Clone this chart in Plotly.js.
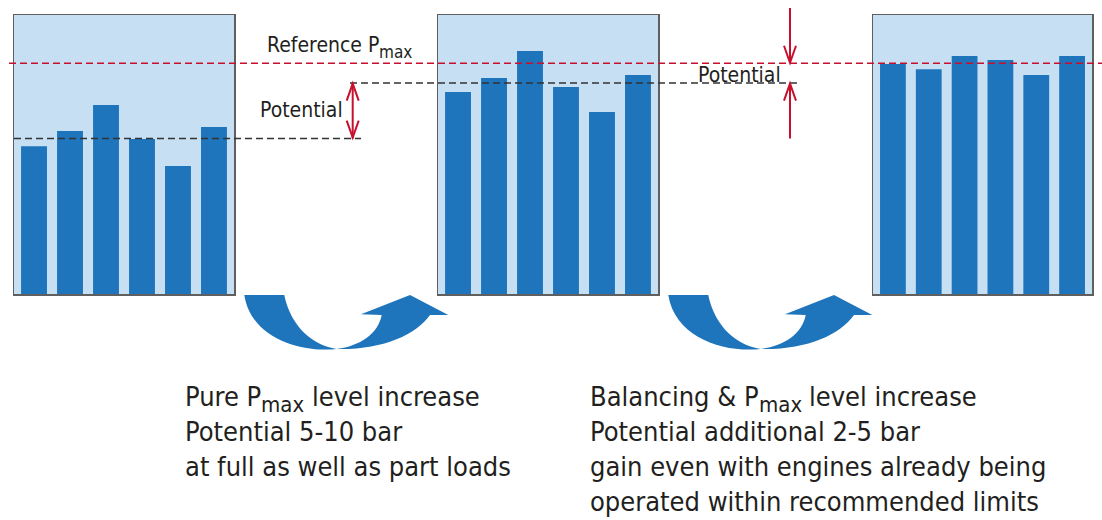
<!DOCTYPE html>
<html><head><meta charset="utf-8">
<script src="https://cdn.plot.ly/plotly-3.0.1.min.js"></script>
<style>html,body{margin:0;padding:0;background:#fff}#chart{width:1102px;height:520px}</style>
</head><body><div id="chart"></div>
<script>
// ---- data ----
const cylinders = ['1','2','3','4','5','6'];
const pmaxBefore   = [53.0, 58.4, 67.7, 55.6, 45.9, 59.9];
const pmaxRaised   = [72.4, 77.4, 87.1, 74.2, 65.2, 78.5];
const pmaxBalanced = [82.4, 80.6, 85.3, 83.9, 78.5, 85.3];
const referencePmax = 82.7;
const levelBefore = 55.7;
const levelRaised = 75.6;
// text pieces: [normal, subscript, normal]
const labelReference = ['Reference P', 'max', ''];
const labelPotential = 'Potential';
const caption1Head = ['Pure P', 'max', ' level increase'];
const caption1Rest = ['Potential 5-10 bar', 'at full as well as part loads'];
const caption2Head = ['Balancing & P', 'max', ' level increase'];
const caption2Rest = ['Potential additional 2-5 bar', 'gain even with engines already being', 'operated within recommended limits'];

// ---- geometry ----
const W = 1102, H = 520;
const panelTop = 15, panelBottom = 294;
const panels = [[14, 234], [438, 658], [873, 1092]];
const yMax = 100;
const px = x => x / W, py = y => 1 - y / H;
const yPx = v => panelBottom - (v / yMax) * (panelBottom - panelTop);

// ---- fonts ----
const cnv = document.createElement('canvas').getContext('2d');
function fontAvailable(f){
  const s = 'abcdefghijklmnopqrstuvwxyzWMPQ0123456789';
  for (const base of ['monospace','serif']) {
    cnv.font = '60px ' + base; const a = cnv.measureText(s).width;
    cnv.font = '60px "' + f + '", ' + base; const b = cnv.measureText(s).width;
    if (Math.abs(a - b) > 0.5) return true;
  }
  return false;
}
const family = ['Liberation Sans Narrow','DejaVu Sans Condensed','Open Sans','Liberation Sans'].find(fontAvailable) || 'sans-serif';
function tw(str, size){ cnv.font = size + 'px "' + family + '"'; return cnv.measureText(str).width; }
cnv.font = '100px "' + family + '"';
const mHg = cnv.measureText('Hg');
const ascentRatio = (mHg.fontBoundingBoxAscent || 93) / 100;
const captionSize = Math.round(Math.min(30, 100 * 461 / tw('gain even with engines already being', 100)));
const labelSize = Math.round(Math.min(26, 100 * 82 / tw('Potential', 100)));
const textColor = '#231f20';
const red = '#c8102e';
const blue = '#1f75bc';

// ---- traces ----
const series = [pmaxBefore, pmaxRaised, pmaxBalanced];
const traces = series.map((vals, i) => ({
  type: 'bar', x: cylinders, y: vals,
  xaxis: i ? 'x' + (i + 1) : 'x', yaxis: i ? 'y' + (i + 1) : 'y',
  marker: {color: blue, line: {width: 0}}, width: 0.72,
  hoverinfo: 'skip', showlegend: false
}));

const layout = {
  width: W, height: H, margin: {l:0, r:0, t:0, b:0},
  paper_bgcolor: '#ffffff', plot_bgcolor: '#c6dff3',
  showlegend: false, bargap: 0.28,
  shapes: [], annotations: []
};
const axBase = {showgrid:false, zeroline:false, showticklabels:false, ticks:'', showline:true, mirror:true, linecolor:'#5f5f5f', linewidth:1.5, fixedrange:true};
panels.forEach(([l, r], i) => {
  const s = i ? String(i + 1) : '';
  layout['xaxis' + s] = Object.assign({}, axBase, {type:'category', domain:[px(l), px(r)], range:[-0.556, 5.556], anchor:'y' + s});
  layout['yaxis' + s] = Object.assign({}, axBase, {domain:[py(panelBottom), py(panelTop)], range:[0, yMax], anchor:'x' + s});
});

// dashed level lines (data y, paper x)
const dash = '7px,4px';
layout.shapes.push({type:'line', layer:'above', xref:'paper', yref:'y', x0:px(9), x1:1, y0:referencePmax, y1:referencePmax, line:{color:red, width:1.5, dash:dash}});
layout.shapes.push({type:'line', layer:'above', xref:'paper', yref:'y', x0:px(14), x1:px(361), y0:levelBefore, y1:levelBefore, line:{color:'#333333', width:1.5, dash:dash}});
layout.shapes.push({type:'line', layer:'above', xref:'paper', yref:'y', x0:px(350), x1:px(798), y0:levelRaised, y1:levelRaised, line:{color:'#333333', width:1.5, dash:dash}});

// red arrows
function redLine(x, ya, yb){ layout.shapes.push({type:'line', layer:'above', xref:'paper', yref:'paper', x0:px(x), x1:px(x), y0:py(ya), y1:py(yb), line:{color:red, width:2}}); }
function vHead(x, tip, dir){ // dir = +1 arms below tip (points up), -1 arms above (points down)
  const a = tip + dir * 17;
  layout.shapes.push({type:'path', layer:'above', xref:'paper', yref:'paper',
    path: `M${px(x-6)},${py(a)} L${px(x)},${py(tip)} L${px(x+6)},${py(a)}`, line:{color:red, width:2}});
}
const ax1 = 352.7;
redLine(ax1, yPx(levelRaised), yPx(levelBefore));
vHead(ax1, yPx(levelRaised) + 0.5, 1);
vHead(ax1, yPx(levelBefore) - 1, -1);
const ax2 = 790;
redLine(ax2, 8, yPx(referencePmax) - 0.5);
vHead(ax2, yPx(referencePmax) - 0.5, -1);
redLine(ax2, 138.5, yPx(levelRaised) + 0.5);
vHead(ax2, yPx(levelRaised) + 0.5, 1);

// curved blue arrows
function curvedArrow(dx){
  const P = (x, y) => px(x + dx) + ',' + py(y);
  const path = 'M' + P(244.3,295) + ' L' + P(284.3,295) +
    ' C' + P(289,319) + ' ' + P(306,344) + ' ' + P(336.7,349) +
    ' C' + P(360,346) + ' ' + P(378,334) + ' ' + P(381.7,315) +
    ' L' + P(361,314.3) + ' L' + P(410,295) + ' L' + P(448.3,315) + ' L' + P(430,315) +
    ' C' + P(416,335) + ' ' + P(382,350) + ' ' + P(336.7,349) +
    ' C' + P(300,353) + ' ' + P(251,338) + ' ' + P(244.3,295) + ' Z';
  layout.shapes.push({type:'path', layer:'above', xref:'paper', yref:'paper', path:path, fillcolor:blue, line:{width:0}});
}
curvedArrow(0);
curvedArrow(424);

// text (baseline-positioned, manual subscripts)
const esc = s => s.replace(/&/g, '&amp;').replace(/</g, '&lt;');
function textAt(str, x, baseline, size){
  if (!str.trim()) return;
  layout.annotations.push({text: esc(str.trim()), xref:'paper', yref:'paper', x:px(x), y:py(baseline - ascentRatio * size),
    xanchor:'left', yanchor:'top', align:'left', showarrow:false, borderpad:0,
    font:{family:family, size:size, color:textColor}});
}
function textLine(pieces, x, baseline, size){
  if (typeof pieces === 'string') pieces = [pieces];
  let cx = x;
  pieces.forEach((t, i) => {
    const isSub = i % 2 === 1;
    const s = isSub ? Math.round(size * 0.82) : size;
    const b = isSub ? baseline + size * 0.24 : baseline;
    const lead = t.match(/^\s*/)[0];
    cx += tw(lead, s);
    textAt(t, cx, b, s);
    cx += tw(t.trim(), s);
  });
}
textLine(labelReference, 266, 52, labelSize);
textLine(labelPotential, 259, 116.5, labelSize);
textLine(labelPotential, 697, 81.5, labelSize);
const lineStep = 35;
textLine(caption1Head, 184, 405, captionSize);
caption1Rest.forEach((t, i) => textLine(t, 184, 405 + (i + 1) * lineStep, captionSize));
textLine(caption2Head, 589, 405, captionSize);
caption2Rest.forEach((t, i) => textLine(t, 589, 405 + (i + 1) * lineStep, captionSize));

Plotly.newPlot('chart', traces, layout, {staticPlot:true, displayModeBar:false});
</script>
</body></html>
